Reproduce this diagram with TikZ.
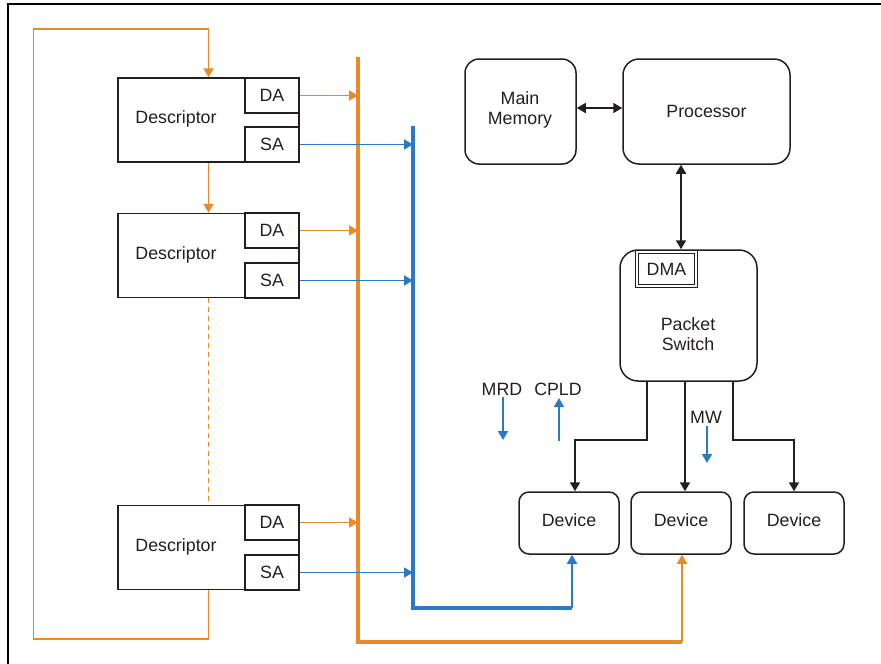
\documentclass[tikz,border=0pt]{standalone}
\usepackage{fontspec}
\setmainfont{Liberation Sans}
\usetikzlibrary{arrows.meta}
\definecolor{org}{RGB}{232,137,42}
\definecolor{blu}{RGB}{44,122,196}
\definecolor{ink}{RGB}{35,31,32}
\tikzset{
  txt/.style={font=\fontsize{17.8}{20.5}\selectfont,text=ink,inner sep=0,align=center},
  desc/.style={draw=ink,line width=1.5pt,minimum width=181pt,minimum height=84pt,inner sep=0},
  fld/.style={draw=ink,line width=1.5pt,minimum width=54pt,minimum height=35pt,inner sep=0,txt},
  rbox/.style={draw=ink,line width=1.5pt,rounded corners=#1,inner sep=0},
  dev/.style={rbox=10pt,minimum width=100pt,minimum height=62pt,txt,text height=13pt,text depth=6pt},
  tip/.style={-{Triangle[length=9pt,width=10pt]}},
  tips/.style={{Triangle[length=9pt,width=10pt]}-{Triangle[length=9pt,width=10pt]}},
  oline/.style={draw=org,line width=1.8pt},
  obus/.style={draw=org,line width=3.2pt},
  bline/.style={draw=blu,line width=1.8pt},
  bbus/.style={draw=blu,line width=3.2pt},
  kline/.style={draw=ink,line width=1.7pt},
}
\begin{document}
\begin{tikzpicture}[x=1pt,y=-1pt]
\useasboundingbox (0,0) rectangle (881,664);
% frame
\coordinate (fa) at (8,664);
\coordinate (fb) at (8,4);
\coordinate (fc) at (881,4);
\draw[line width=2.4pt,black] (fa) -- (fb) -- (fc);

% descriptors
\node[desc] (d1) at (208.5,120) {};
\node[txt] (t1) at (176,119) {Descriptor};
\node[fld] (da1) at (272,95.5) {DA};
\node[fld] (sa1) at (272,144.5) {SA};

\node[desc] (d2) at (208.5,255.5) {};
\node[txt] (t2) at (176,255) {Descriptor};
\node[fld] (da2) at (272,230.5) {DA};
\node[fld] (sa2) at (272,280.5) {SA};

\node[desc] (d3) at (208.5,547.5) {};
\node[txt] (t3) at (176,547) {Descriptor};
\node[fld] (da3) at (272,522.5) {DA};
\node[fld] (sa3) at (272,572.5) {SA};

% right side boxes
\node[rbox=14pt,minimum width=111pt,minimum height=105pt] (mem) at (520.5,111.5) {};
\node[txt] (memt) at (520,110) {Main\\Memory};
\node[rbox=16pt,minimum width=167pt,minimum height=105pt,txt] (proc) at (706.5,111.5) {Processor};
\node[rbox=18pt,minimum width=137pt,minimum height=131pt] (ps) at (688.5,315.5) {};
\node[txt] (pst) at (688,334) {Packet\\Switch};
\node[draw=ink,double=white,double distance=2.4pt,line width=1pt,minimum width=59pt,minimum height=34pt,inner sep=0,txt] (dma) at (666.5,269) {DMA};

\node[dev] (dev1) at (569,523) {Device};
\node[dev] (dev2) at (681,523) {Device};
\node[dev] (dev3) at (794,523) {Device};

% labels
\node[txt] (mrd) at (502,389) {MRD};
\node[txt] (cpld) at (558,389) {CPLD};
\node[txt] (mw) at (706,417) {MW};

% orange loop
\coordinate (ol1) at (33.5,29);
\coordinate (ol2) at (33.5,639);
\draw[oline] (d3.south) -- (d3.south |- ol2) -- (ol2) -- (ol1) -- (ol1 -| d1.north);
\draw[oline,tip] (ol1 -| d1.north) -- (d1.north);
\draw[oline,tip] (d1.south) -- (d2.north);
\draw[oline,dashed,dash pattern=on 5pt off 4pt] (d2.south) -- (d3.north);

% orange bus
\coordinate (ob1) at (358,57);
\coordinate (ob2) at (358,642);
\coordinate (ob3) at (682,642);
\draw[obus] (ob1) -- (ob2) -- (ob3);
\draw[oline,tip] (ob3) -- (ob3 |- dev2.south);
\draw[oline,tip] (da1.east) -- (da1.east -| ob1);
\draw[oline,tip] (da2.east) -- (da2.east -| ob1);
\draw[oline,tip] (da3.east) -- (da3.east -| ob1);

% blue bus
\coordinate (bb1) at (413,126);
\coordinate (bb2) at (413,608);
\coordinate (bb3) at (572,608);
\draw[bbus] (bb1) -- (bb2) -- (bb3);
\draw[bline,tip] (bb3) -- (bb3 |- dev1.south);
\draw[bline,tip] (sa1.east) -- (sa1.east -| bb1);
\draw[bline,tip] (sa2.east) -- (sa2.east -| bb1);
\draw[bline,tip] (sa3.east) -- (sa3.east -| bb1);

% black connectors
\draw[kline,tips] ([yshift=3.5pt]mem.east) -- ([yshift=3.5pt]mem.east -| proc.west);
\coordinate (pa) at (681,200);
\draw[kline,tips] (proc.south -| pa) -- (ps.north -| pa);
\coordinate (s1) at (647,440);
\coordinate (s1b) at (575,440);
\coordinate (s2) at (685,440);
\coordinate (s3) at (733,440);
\coordinate (s3b) at (794,440);
\draw[kline,tip] (ps.south -| s1) -- (s1) -- (s1b) -- (s1b |- dev1.north);
\draw[kline,tip] (ps.south -| s2) -- (s2 |- dev2.north);
\draw[kline,tip] (ps.south -| s3) -- (s3) -- (s3b) -- (s3b |- dev3.north);

% small blue arrows
\coordinate (m1) at (503,397);
\coordinate (m2) at (503,440);
\coordinate (c1) at (559,441);
\coordinate (c2) at (559,398);
\coordinate (w1) at (707,426);
\coordinate (w2) at (707,463);
\draw[bline,tip] (m1) -- (m2);
\draw[bline,tip] (c1) -- (c2);
\draw[bline,tip] (w1) -- (w2);
\end{tikzpicture}
\end{document}
